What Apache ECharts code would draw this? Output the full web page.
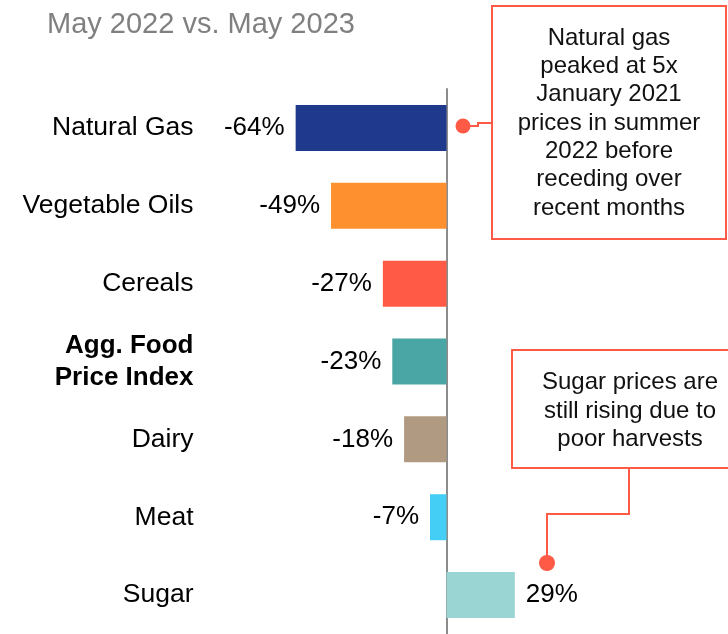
<!DOCTYPE html>
<html>
<head>
<meta charset="utf-8">
<style>
  html, body { margin: 0; padding: 0; background: #fff; }
  #chart { width: 728px; height: 634px; }
</style>
<script src="https://cdn.jsdelivr.net/npm/echarts/dist/echarts.min.js"></script>
</head>
<body>
<div id="chart"></div>
<script>
// 数据
var categories = ['Natural Gas', 'Vegetable Oils', 'Cereals', 'Agg. Food Price Index', 'Dairy', 'Meat', 'Sugar'];
var changes = [-64, -49, -27, -23, -18, -7, 29];
var barColors = ['#1f3a8c', '#ff9030', '#ff5a45', '#4aa6a4', '#b09a82', '#45cef5', '#9ad5d3'];
var gasNote = 'Natural gas\npeaked at 5x\nJanuary 2021\nprices in summer\n2022 before\nreceding over\nrecent months';
var sugarNote = 'Sugar prices are\nstill rising due to\npoor harvests';

var FONT = '"Liberation Sans", Arial, sans-serif';
var RED = '#ff5a45';

var chart = echarts.init(document.getElementById('chart'));

var seriesData = [];
for (var i = 0; i < changes.length; i++) {
    seriesData.push({
        value: changes[i],
        itemStyle: { color: barColors[i] },
        label: { position: changes[i] < 0 ? 'left' : 'right' }
    });
}

var option = {
    animation: false,
    title: {
        text: 'May 2022 vs. May 2023',
        left: 47,
        top: 10,
        padding: 0,
        textStyle: {
            color: '#808080',
            fontSize: 29,
            fontWeight: 'normal',
            fontFamily: FONT
        }
    },
    grid: {
        left: 281.5,
        right: 45.8,
        top: 89,
        bottom: 0
    },
    xAxis: {
        type: 'value',
        min: -70,
        max: 100,
        show: false
    },
    yAxis: {
        type: 'category',
        inverse: true,
        data: categories,
        axisTick: { show: false },
        axisLine: {
            show: true,
            onZero: true,
            lineStyle: { color: '#8c8c8c', width: 2 }
        },
        axisLabel: {
            margin: 88,
            color: '#000',
            fontSize: 26.5,
            fontFamily: FONT,
            formatter: function (v) {
                if (v === 'Agg. Food Price Index') {
                    return '{b|Agg. Food}\n{b|Price Index}';
                }
                return v;
            },
            rich: {
                b: {
                    fontWeight: 'bold',
                    fontSize: 26,
                    fontFamily: FONT,
                    color: '#000',
                    lineHeight: 32,
                    align: 'right'
                }
            }
        }
    },
    series: [{
        type: 'bar',
        data: seriesData,
        barWidth: 46,
        label: {
            show: true,
            distance: 11,
            color: '#000',
            fontSize: 26,
            fontFamily: FONT,
            formatter: function (p) {
                return p.value + '%';
            }
        }
    }],
    graphic: [
        // 天然气注释
        {
            type: 'polyline',
            shape: { points: [[463, 126], [478, 126], [478, 123], [492, 123]] },
            style: { stroke: RED, lineWidth: 2, fill: null }
        },
        {
            type: 'circle',
            shape: { cx: 463, cy: 126, r: 7.5 },
            style: { fill: RED }
        },
        {
            type: 'rect',
            shape: { x: 492, y: 6, width: 234, height: 233 },
            style: { fill: '#fff', stroke: RED, lineWidth: 2 }
        },
        {
            type: 'text',
            style: {
                text: gasNote,
                x: 609,
                y: 123,
                align: 'center',
                verticalAlign: 'middle',
                textAlign: 'center',
                textVerticalAlign: 'middle',
                font: '24px ' + FONT,
                lineHeight: 28.3,
                fill: '#111'
            }
        },
        // 糖价注释
        {
            type: 'polyline',
            shape: { points: [[629, 468], [629, 514], [547, 514], [547, 563]] },
            style: { stroke: RED, lineWidth: 2, fill: null }
        },
        {
            type: 'circle',
            shape: { cx: 547, cy: 563, r: 8 },
            style: { fill: RED }
        },
        {
            type: 'rect',
            shape: { x: 512, y: 350, width: 220, height: 118 },
            style: { fill: '#fff', stroke: RED, lineWidth: 2 }
        },
        {
            type: 'text',
            style: {
                text: sugarNote,
                x: 630,
                y: 411,
                align: 'center',
                verticalAlign: 'middle',
                textAlign: 'center',
                textVerticalAlign: 'middle',
                font: '24px ' + FONT,
                lineHeight: 28.3,
                fill: '#111'
            }
        }
    ]
};
chart.setOption(option);
</script>
</body>
</html>
